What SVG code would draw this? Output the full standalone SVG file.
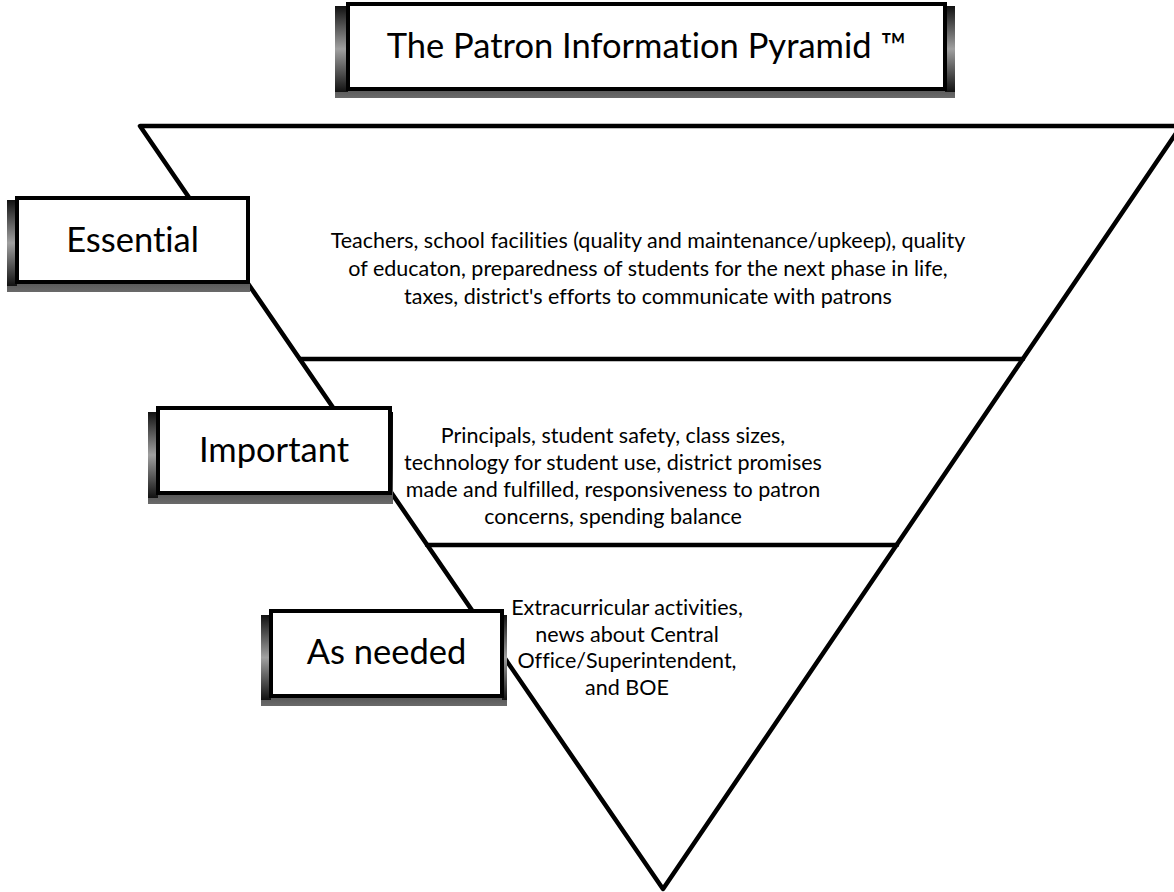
<svg xmlns="http://www.w3.org/2000/svg" width="1174" height="892" viewBox="0 0 1174 892">
<defs>
<linearGradient id="gSide" x1="0" y1="0" x2="0" y2="1">
<stop offset="0" stop-color="#111"/>
<stop offset="0.5" stop-color="#a0a0a0"/>
<stop offset="1" stop-color="#111"/>
</linearGradient>
<linearGradient id="gBottom" x1="0" y1="0" x2="0" y2="1">
<stop offset="0" stop-color="#000"/>
<stop offset="0.6" stop-color="#222"/>
<stop offset="1" stop-color="#6a6a6a"/>
</linearGradient>
<style>
.edge{fill:none;stroke:#000;stroke-width:4.5;stroke-linejoin:round;stroke-linecap:round}
.box{fill:#fff;stroke:#000;stroke-width:4}
.sb{fill:url(#gBottom)}
.ss{fill:url(#gSide)}
.lbl{font-family:Lato,"Liberation Sans",sans-serif;font-size:34.5px;fill:#000;text-anchor:middle;font-variant-ligatures:none}
.body{font-family:Lato,"Liberation Sans",sans-serif;font-size:21.5px;fill:#000;text-anchor:middle;font-variant-ligatures:none}
</style>
</defs>
<rect width="1174" height="892" fill="#fff"/>

<g id="pyramid">
<polygon points="140,126 1181,126 663,889" fill="#fff" class="edge"/>
<line x1="300" y1="359" x2="1023" y2="359" class="edge"/>
<line x1="427" y1="545" x2="897" y2="545" class="edge"/>
</g>

<g id="connectors"></g>

<g id="layer-essential">
<text class="body" x="648" y="248">Teachers, school facilities (quality and maintenance/upkeep), quality</text>
<text class="body" x="648" y="276">of educaton, preparedness of students for the next phase in life,</text>
<text class="body" x="648" y="304">taxes, district's efforts to communicate with patrons</text>
</g>
<g id="layer-important">
<text class="body" x="613" y="443">Principals, student safety, class sizes,</text>
<text class="body" x="613" y="470">technology for student use, district promises</text>
<text class="body" x="613" y="497">made and fulfilled, responsiveness to patron</text>
<text class="body" x="613" y="524">concerns, spending balance</text>
</g>
<g id="layer-asneeded">
<text class="body" x="627" y="615">Extracurricular activities,</text>
<text class="body" x="627" y="642">news about Central</text>
<text class="body" x="627" y="668">Office/Superintendent,</text>
<text class="body" x="627" y="695">and BOE</text>
</g>

<g id="title">
<rect class="sb" x="335" y="6" width="620" height="92"/>
<rect class="ss" x="335" y="6" width="13" height="86"/>
<rect class="ss" x="945" y="6" width="10" height="86"/>
<rect class="box" x="348" y="4" width="597" height="85"/>
<text class="lbl" x="646.5" y="58">The Patron Information Pyramid ™</text>
</g>

<g id="label-essential">
<rect class="sb" x="7" y="200" width="243" height="92"/>
<rect class="ss" x="7" y="200" width="10" height="86"/>
<rect class="box" x="17" y="198" width="231" height="84"/>
<text class="lbl" x="132.5" y="252">Essential</text>
</g>

<g id="label-important">
<rect class="sb" x="148" y="412" width="245" height="92"/>
<rect class="ss" x="148" y="412" width="10" height="86"/>
<rect class="box" x="158" y="408" width="232" height="85"/>
<text class="lbl" x="274" y="462">Important</text>
</g>

<g id="label-asneeded">
<rect class="sb" x="261" y="615" width="246" height="91"/>
<rect class="ss" x="261" y="615" width="10" height="85"/>
<rect class="ss" x="502" y="615" width="5" height="85"/>
<rect class="box" x="271" y="611" width="231" height="85"/>
<text class="lbl" x="386.5" y="664">As needed</text>
</g>
</svg>
